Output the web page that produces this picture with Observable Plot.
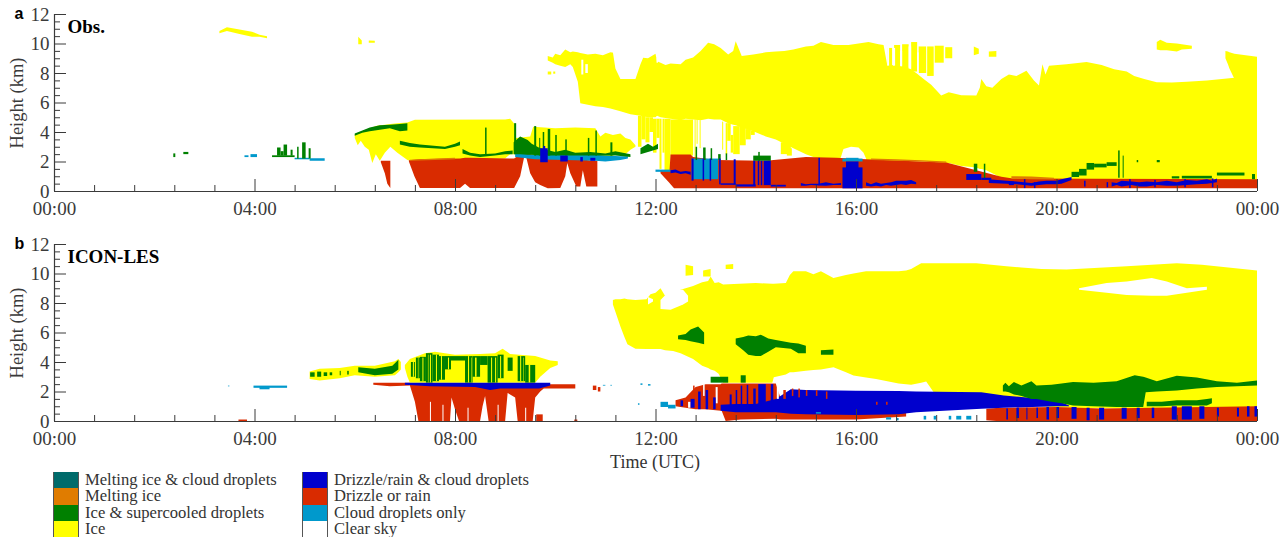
<!DOCTYPE html>
<html><head><meta charset="utf-8">
<script src="https://cdn.jsdelivr.net/npm/d3@7"></script>
<script src="https://cdn.jsdelivr.net/npm/@observablehq/plot@0.6"></script>
<style>
html,body{margin:0;padding:0;background:#fff;overflow:hidden}
#wrap{position:relative;width:1287px;height:537px;font-family:"Liberation Serif",serif;color:#333}
#wrap svg{position:absolute;left:0;background:none}
.lg{position:absolute;font-size:16.6px;line-height:16px;white-space:nowrap}
.sw{position:absolute;width:26px;height:16.5px;box-sizing:border-box;border-left:1px solid #555;border-right:1px solid #555}
</style></head><body><div id="wrap"></div>
<script>
// ---- classes ----
const classNames=["Melting ice & cloud droplets","Melting ice","Ice & supercooled droplets","Ice","Drizzle/rain & cloud droplets","Drizzle or rain","Cloud droplets only","Clear sky"];
const classColors=["#006b6b","#e07c00","#008000","#ffff00","#0000cd","#d92b00","#0099cc","#ffffff"];
const [TEAL,ORANGE,GREEN,YELLOW,BLUE,RED,CYAN,WHITE]=classColors;
const majorHours=[0,4,8,12,16,20,24];
const minorHours=[0.8,1.6,2.4,3.2,4.8,5.6,6.4,7.2,8.8,9.6,10.4,11.2,12.8,13.6,14.4,15.2,16.8,17.6,18.4,19.2,20.8,21.6,22.4,23.2];
const majorKm=[0,2,4,6,8,10,12];
const minorKm=[0.5,1,1.5,2.5,3,3.5,4.5,5,5.5,6.5,7,7.5,8.5,9,9.5,10.5,11,11.5];

// ---- panel a: Obs. rows [hour, low km, high km] ----
const obsIceMain=[[9.85,8.85,9.15],[9.95,8.7,9.05],[10,8.6,9.3],[10.1,8.5,9.2],[10.2,8.4,9.6],[10.3,8.6,9.4],[10.35,8.4,9.45],[10.45,7.4,9.4],[10.5,5.95,9.35],[10.65,5.85,9.25],[10.8,5.75,9.3],[10.95,5.7,9.2],[11.1,5.6,9.4],[11.3,5.4,9.3],[11.5,5.2,9.3],[11.7,5.1,9.05],[11.85,5,9],[12,5,9.3],[12.03,5.1,8.8],[12.1,5,8.7],[12.2,4.95,8.55],[12.3,4.9,8.65],[12.5,4.8,8.6],[12.6,4.9,8.9],[12.75,4.85,9.05],[12.9,4.8,9.5],[13.05,4.9,10.05],[13.17,4.85,9.95],[13.3,4.85,9.7],[13.45,4.6,9.25],[13.55,4.5,9.5],[13.6,4.45,10.15],[13.72,4.3,9.15],[13.95,4.05,9.25],[14.2,3.7,9.4],[14.4,3.5,9.45],[14.57,3.2,9.5],[14.75,2.9,9.6],[15,2.5,9.8],[15.15,2.3,9.85],[15.3,2.1,10.1],[15.55,2.1,9.9],[15.85,2.1,9.9],[16.05,2.1,10],[16.25,2.1,10.1],[16.45,2,9.95],[16.55,2,9.9],[16.62,2,8.6],[16.8,2,8.5],[17.03,2,8.4],[17.2,2,8],[17.35,2,7.6],[17.5,2,7.2],[17.7,1.9,6.47],[17.85,1.9,6.7],[18.1,1.7,6.5],[18.4,1.6,6.47],[18.47,1.5,7],[18.5,1.5,7.6],[18.6,1.4,7.1],[18.72,1.2,7],[18.9,0.9,7.6],[19.05,0.8,7.9],[19.2,0.75,7.8],[19.4,0.7,8.15],[19.55,0.7,7.5],[19.65,0.7,7.15],[19.72,0.7,8.6],[19.78,0.7,7.9],[19.85,0.7,8.5],[20.2,0.7,8.6],[20.6,0.7,8.75],[20.9,0.7,8.55],[21.15,0.7,8.25],[21.4,0.7,8.1],[21.55,0.7,7.8],[21.75,0.7,7.6],[22,0.7,7.37],[22.3,0.7,7.35],[22.6,0.7,7.4],[23,0.7,7.5],[23.5,0.7,7.66],[24,0.7,7.8]];
const obsIceCorner=[[23.37,9,9.5],[23.42,8.6,9.45],[23.45,8.3,9.4],[23.55,7.6,9.3],[24,7,9.1]];
const obsIceStreakTop=[[18.35,9.2,9.8],[18.45,9.3,9.65]];
const obsIceStreakB=[[18.65,9.1,9.45],[18.8,9.1,9.5]];
const obsIceBlobs=[[22,9.6,10.1],[22.07,9.55,10.25],[22.2,9.55,10.05],[22.4,9.45,10],[22.5,9.6,9.95],[22.7,9.65,9.85]];
const obsIceHigh=[[3.3,10.7,10.85],[3.45,10.85,11.1],[3.7,10.65,10.95],[3.95,10.45,10.8],[4.1,10.45,10.6],[4.25,10.35,10.5]];
const obsIceSmall=[[6.07,9.95,10.45],[6.14,9.95,10.2]];
const obsIceSmall2=[[6.28,10.05,10.2],[6.4,10.05,10.18]];
const obsIceLow=[[6,3.6,3.85],[6.06,3.1,3.9],[6.12,3.4,3.95],[6.2,3,4.1],[6.28,2.8,4.2],[6.35,1.9,4.3],[6.42,2.5,4.4],[6.5,2.05,4.45],[6.6,2.6,4.5],[6.71,3,4.55],[6.85,2.6,4.6],[7.05,2.1,4.65],[7.2,2,4.83],[9,2.2,4.85],[9.1,2.5,4.9],[9.2,2.5,4.5],[9.22,2.5,3.6],[9.5,2.5,3.7],[9.56,2.4,4.35],[10,2.3,4.25],[10.4,2.2,4.3],[10.8,2.1,4.25],[10.9,2.1,3.7],[11,2.2,3.95],[11.15,2.4,3.8],[11.3,2.6,3.9],[11.4,2.5,3.6],[11.5,2.8,3.5],[11.6,3,3.1]];
const obsIceStripes=[[11.65,11.72,3,5.1],[11.72,11.8,3.5,5.1],[11.8,11.88,3.3,5],[11.88,11.95,4,5],[11.95,12.02,2.6,4.9],[12.02,12.08,3.6,4.9],[12.08,12.12,1.5,4.9],[12.14,12.18,2.6,4.9],[12.18,12.3,1.4,4.9],[12.3,12.75,2.4,4.85],[12.78,12.8,2.2,4.85],[12.82,12.84,3.2,4.85],[12.88,12.9,2.9,4.8],[13.33,13.35,2.8,4.7],[13.4,13.43,2.5,4.6],[13.43,13.5,3.4,4.6],[13.5,13.55,2.6,3.8],[13.55,13.68,2.5,4.4],[13.68,13.8,3.1,4.4],[13.8,13.9,3.5,4.2],[13.9,13.98,3.8,4.1],[14.5,14.7,2.5,3.3],[14.62,14.72,2.4,2.9]];
const obsWhite=[[15.68,2.1,2.1],[15.75,2.1,2.85],[15.9,2.1,3],[16.05,2.1,2.95],[16.15,2.1,2.6],[16.2,2.1,2.2]];
const obsWhiteNotch=[[11.15,9.4,9.6],[11.2,8.3,9.6],[11.3,7.6,9.6],[11.6,7.6,9.6],[11.7,8.6,9.6],[11.75,9,9.6]];
const obsWhiteStripes=[[16.62,16.66,8.5,9.9],[16.74,16.78,8.5,9.7],[16.88,16.92,8.5,9.5],[17.05,17.1,8.3,9.8],[17.22,17.25,8,9.4],[12.02,12.05,8.7,9],[10.52,10.56,7.9,8.9],[10.6,10.65,8,8.6]];
const obsIceTopStreaks=[[16.62,16.72,8.4,9.7],[16.76,16.88,8.4,9.9],[16.92,17.05,8.3,9.95],[17.1,17.22,8.1,10.1],[17.25,17.4,8,9.8],[17.42,17.55,7.8,9.8],[17.57,17.75,8.7,9.85],[17.78,17.92,9,9.75],[9.85,9.92,7.9,8.1],[9.96,10,7.95,8.1]];
const obsRainA=[[6.52,1.95,2.05],[6.6,1.2,2.05],[6.65,0.5,2.05],[6.71,0.2,2.05]];
const obsRainB=[[7.08,2,2.09],[7.19,1,2.12],[7.3,0.2,2.15],[8.1,0.2,2.2],[8.2,0.5,2.25],[8.3,0.2,2.25],[9.18,0.2,2.2],[9.3,1,2.5],[9.38,2.3,2.6],[9.42,2.3,2.6],[9.5,1.2,2.5],[9.6,0.6,2.4],[9.7,0.4,2.4],[9.85,0.18,2.35],[10.1,0.2,2.3],[10.2,1,2.3],[10.24,1.9,2.3],[10.3,1.2,2.2],[10.42,0.3,2.15],[10.5,0.3,2.1],[10.55,1.4,2.1],[10.62,0.3,2.1],[10.8,0.3,2.05],[10.84,0.3,2.05]];
const obsRainC=[[12.1,1.2,1.35],[12.28,0.55,1.4],[12.3,0.45,2.47],[12.37,0.18,2.47],[12.7,0.18,2.47],[12.75,0.18,2.3],[13.2,0.18,2.1],[14.2,0.18,2.05],[15,0.18,2.3],[15.6,0.18,2.25],[16.3,0.18,2.13],[17.8,0.18,1.93],[18.9,0.18,0.97],[19.13,0.18,0.85],[24,0.18,0.8]];
const obsMelt=[[16.3,2.1,2.2],[16.8,2.05,2.15],[17.3,2,2.08],[17.8,1.9,2]];
const obsMelt2=[[19.1,0.83,1],[19.5,0.8,0.98],[19.95,0.78,0.9]];
const obsMeltLeft=[[7.1,2.05,2.12],[7.6,2.1,2.2],[8,2.15,2.25]];
const obsGreenBand1=[[6,3.75,3.9],[6.15,3.95,4.1],[6.3,4.05,4.3],[6.5,4.15,4.45],[6.7,4.25,4.5],[6.9,4.05,4.55],[7.05,4.1,4.6]];
const obsGreenBand2=[[6.9,3.15,3.4],[7.1,3,3.25],[7.3,2.95,3.15],[7.8,2.85,3],[8,3,3.2],[8.1,3.1,3.35]];
const obsGreenBand3=[[8.15,2.55,2.85],[8.3,2.4,2.6],[8.5,2.3,2.5],[8.8,2.4,2.55],[9,2.5,2.7],[9.15,2.5,2.75]];
const obsGreenBlock=[[9.17,2.5,3.3],[9.3,2.5,3.7],[9.45,2.45,3.45],[9.53,2.45,3.2],[9.7,2.4,2.9],[10,2.4,2.65],[10.2,2.4,2.8],[10.4,2.4,2.6],[10.7,2.4,2.65],[11,2.4,2.55],[11.2,2.4,2.7],[11.5,2.3,2.5]];
const obsGreenRight=[[11.7,2.5,2.9],[11.85,2.65,3.2],[11.95,2.75,3],[12.05,2.85,3.2]];
const obsGreenStripes=[[2.38,2.42,2.3,2.55],[2.58,2.68,2.5,2.65],[4.35,4.8,2.3,2.42],[4.45,4.52,2.4,2.95],[4.52,4.58,2.4,2.7],[4.58,4.65,2.4,3.15],[4.72,4.76,2.4,2.8],[4.85,4.88,2.2,3],[4.95,5.02,2.2,3.3],[5.08,5.12,2.2,2.9],[8.6,8.63,2.4,4.3],[9.18,9.22,2.5,4.6],[9.58,9.62,2.4,4.4],[9.68,9.7,2.4,3.6],[9.75,9.78,2.4,4],[9.85,9.9,2.4,4.2],[10,10.03,2.4,3.8],[10.2,10.23,2.4,3.5],[10.65,10.68,2.4,3.6],[10.8,10.83,2.4,4.1],[11.1,11.14,2.4,3.3],[12.8,12.83,2.1,3],[12.95,13,2.1,2.95],[13.1,13.13,2.1,2.9],[13.25,13.3,2.1,2.5],[13.4,13.43,2.1,2.55],[13.95,14.3,2.05,2.4],[14.05,14.08,2.05,2.65],[18.35,18.42,1.3,1.85],[18.55,18.58,0.8,1.85],[20.3,20.45,0.95,1.3],[20.45,20.6,1.05,1.5],[20.6,20.75,1.45,1.9],[20.75,21,1.6,1.85],[21,21.2,1.7,1.95],[21.23,21.26,0.9,2.75],[21.32,21.34,0.9,2.4],[21.6,21.63,1.95,2.1],[22,22.06,1.95,2.1],[22.3,22.45,0.85,1],[22.5,23.1,0.85,1.03],[23.2,23.75,1.05,1.25],[23.9,23.96,0.8,1.15]];
const obsCyanBand=[[9.2,2.3,2.55],[9.6,2.15,2.45],[10.2,2.1,2.45],[10.8,2.05,2.45],[11,2,2.4],[11.3,2.1,2.35],[11.45,2.2,2.35]];
const obsCyanStripes=[[3.8,3.88,2.3,2.42],[3.92,4.05,2.3,2.5],[4.8,5.1,2.15,2.25],[5.1,5.4,2.05,2.22],[12,12.3,1.3,1.45],[12.72,13.25,0.8,2.2],[15.73,16.13,2,2.2],[15.8,16.05,2.1,2.25]];
const obsBlueStripes=[[9.7,9.85,1.95,2.9],[9.76,9.8,2.5,3.05],[10.1,10.25,2,2.4],[10.5,10.55,2,2.3],[10.7,10.8,2.05,2.25],[12.72,12.76,0.7,2.2],[12.94,12.97,0.7,2.2],[13.08,13.11,0.7,2.2],[13.27,13.3,0.45,2.2],[13.56,13.6,0.45,2.15],[13.3,13.6,0.42,0.52],[13.6,14,0.3,0.45],[13.95,13.99,0.4,2.05],[14.04,14.07,0.4,2.05],[14.1,14.13,0.4,2.05],[14.16,14.3,0.4,2.05],[14.3,14.6,0.3,0.42],[15.73,16.13,0.18,1.6],[15.8,16.05,0.5,2],[18.2,18.5,0.75,1.15],[18.5,18.7,0.75,0.9],[19.05,19.15,0.4,0.65],[15.25,15.28,0.4,2.25],[19.35,19.38,0.2,0.8],[19.55,19.58,0.2,0.6],[20.55,20.58,0.3,0.7],[21,21.03,0.25,0.6],[21.45,21.48,0.2,0.8],[21.95,21.98,0.25,0.75],[22.55,22.58,0.25,0.8],[23.1,23.13,0.25,0.85]];
const obsBlueLine=[[12.3,1.2,1.4],[12.4,1.25,1.45],[12.5,1.15,1.3],[12.6,1.2,1.35],[12.7,1.1,1.3]];
const obsBlueLine1=[[14.9,0.35,0.55],[15,0.35,0.45],[15.1,0.4,0.5],[15.25,0.38,0.5],[15.4,0.35,0.6],[15.55,0.4,0.5],[15.7,0.4,0.55]];
const obsBlueLine1b=[[16.2,0.35,0.6],[16.3,0.3,0.45],[16.4,0.35,0.6],[16.5,0.3,0.5],[16.6,0.4,0.55],[16.7,0.35,0.6],[16.8,0.4,0.7],[16.9,0.45,0.7],[17,0.4,0.7],[17.1,0.5,0.75],[17.2,0.45,0.6]];
const obsBlueLine2=[[18.65,0.55,0.8],[19,0.5,0.7],[19.2,0.45,0.65],[19.35,0.4,0.6],[19.5,0.35,0.55],[19.65,0.4,0.65],[19.8,0.45,0.7],[20,0.45,0.7],[20.1,0.5,0.8],[20.3,0.75,0.95]];
const obsBlueLine3=[[21.1,0.3,0.6],[21.2,0.4,0.55],[21.3,0.3,0.7],[21.5,0.4,0.65],[21.65,0.3,0.6],[21.8,0.3,0.65],[22,0.4,0.6],[22.2,0.35,0.7],[22.4,0.35,0.6],[22.6,0.4,0.75],[22.8,0.45,0.7],[23,0.5,0.8],[23.1,0.55,0.7],[23.2,0.6,0.85]];

// ---- panel b: ICON-LES ----
const lesIceMain=[[11.15,7.9,8.2],[11.2,7.4,8.25],[11.3,6.4,8.25],[11.38,5.7,8.3],[11.44,5.2,8.25],[11.6,4.9,8.2],[11.82,4.88,8.25],[11.9,4.88,8.6],[12,4.88,8.7],[12.1,4.88,9],[12.19,4.8,8.5],[12.35,4.75,8.7],[12.5,4.6,8.9],[12.75,4.2,9.15],[12.93,3.75,9.4],[13.05,3.6,9.5],[13.1,3.5,9.8],[13.18,3.4,9.35],[13.26,3.2,9.4],[13.35,2.6,9.25],[14,2.6,9.35],[14.33,2.6,9.3],[14.36,2.97,9.3],[14.6,3.15,9.35],[14.68,3.3,9.9],[14.75,3.3,10.15],[15,3.4,10.15],[15.15,3.45,9.95],[15.3,3.5,10.15],[15.55,3.64,9.7],[15.8,3.3,9.9],[15.95,3.08,10],[16.2,2.95,10.15],[16.4,2.85,10.15],[16.85,2.55,10.15],[17,2.5,10.2],[17.1,2.45,10.3],[17.3,2.6,10.7],[17.4,2.67,10.7],[17.55,1.95,10.7],[18.4,1.7,10.7],[19,1.5,10.5],[19.3,1.3,10.4],[19.7,1,10.3],[20.2,0.9,10.27],[21.4,0.85,10.5],[22.4,0.85,10.7],[22.9,0.85,10.6],[24,0.8,10.2]];
const lesIceBlobA=[[12.6,9.85,10.6],[12.75,9.9,10.5]];
const lesIceBlobB=[[12.95,9.8,10.2],[13.1,9.8,10.3]];
const lesIceBlobC=[[13.4,10.3,10.6],[13.55,10.3,10.65]];
const lesWhiteHoleA=[[12.1,7.6,8.2],[12.3,7.55,8.9],[12.55,7.9,8.9],[12.65,8.1,8.5]];
const lesWhiteHoleB=[[11.85,7.9,8.4],[11.95,8.1,8.25]];
const lesWhiteHoleC=[[20.45,8.9,9],[21,8.7,9.35],[21.4,8.55,9.45],[21.9,8.5,9.7],[22.2,8.5,9.45],[22.6,8.7,9],[23,8.9,9.1]];
const lesIceA=[[5.1,2.85,3.35],[5.3,2.75,3.55],[5.7,2.9,3.6],[6,3.1,3.75],[6.4,3,3.75],[6.8,3.1,4.05],[6.87,3.3,4.2],[6.92,3.5,4]];
const lesIceB=[[7,3.6,3.8],[7.05,3,4],[7.1,2.6,4.2],[7.4,2.6,4.6],[7.6,2.6,4.7],[8,2.6,4.5],[8.5,2.6,4.55],[8.8,2.6,4.6],[8.95,2.6,4.9],[9.1,2.6,4.55],[9.6,2.6,4.4],[9.7,3,4.3],[9.9,3.6,4.1],[10.05,3.8,4.05]];
const lesGreenA=[[6.07,3.3,3.65],[6.4,3.1,3.55],[6.75,3.2,3.75],[6.87,3.5,4.15]];
const lesGreenC=[[12.45,5.55,5.8],[12.6,5.5,5.9],[12.7,5.4,6.2],[12.85,5.3,6.4],[12.97,5.2,6]];
const lesGreenD=[[13.6,5.2,5.6],[13.75,4.8,5.7],[13.85,4.5,5.8],[14,4.4,5.75],[14.1,4.4,5.85],[14.25,4.7,5.6],[14.4,5,5.5],[14.7,4.9,5.3],[14.85,4.6,5.25],[15,4.6,5.1]];
const lesGreenE=[[15.3,4.5,4.8],[15.55,4.5,4.85]];
const lesGreenBig=[[18.93,2,2.4],[18.98,2,2.6],[19.05,1.95,2.35],[19.15,1.8,2.65],[19.3,1.7,2.4],[19.5,1.5,2.7],[19.6,1.5,2.4],[19.9,1.3,2.45],[20.1,1.2,2.55],[20.33,1.05,2.65],[20.74,1,2.6],[21.2,0.95,2.7],[21.56,0.95,3.1],[21.73,0.95,3],[21.78,1.95,2.95],[22,2,2.7],[22.4,2.07,3.07],[22.8,2.2,2.95],[23.2,2.3,2.7],[23.6,2.35,2.6],[24,2.4,2.75]];
const lesGreenLow=[[21.8,1,1.3],[22.1,1,1.3],[22.4,1.05,1.4],[22.8,1.05,1.4],[23,1.05,1.5],[23.1,1.2,1.55]];
const lesGreenStripes=[[5.11,5.2,3,3.3],[5.25,5.33,3,3.35],[5.38,5.45,3.05,3.3],[5.5,5.55,3.1,3.3],[5.7,5.72,3.1,3.4],[5.85,5.88,3.15,3.4],[7.12,7.2,3,4],[7.22,7.3,2.9,4.3],[7.3,7.42,2.7,4.35],[7.42,7.55,2.6,4.6],[7.55,7.68,2.7,4.5],[7.68,7.8,2.8,4.4],[7.8,7.92,3.5,4.4],[7.92,8.2,4.1,4.4],[8.2,8.35,2.6,4.4],[8.35,8.5,3,4.4],[8.5,8.65,3.8,4.4],[8.65,8.85,2.6,4.4],[8.85,8.97,2.9,4.5],[9.05,9.15,3.4,4.3],[9.25,9.4,2.7,4.4],[9.4,9.6,2.6,3.8],[13.1,13.45,2.6,3],[13.7,13.8,2.6,3.1]];
const lesYellowStreaks=[[7.16,7.18,3,4],[7.26,7.27,2.9,4.3],[7.35,7.37,2.7,4.3],[7.46,7.47,2.6,4.5],[7.5,7.52,2.6,4.5],[7.62,7.64,2.7,4.5],[7.72,7.74,2.8,4.4],[7.86,7.88,3.5,4.3],[8.26,8.28,2.6,4.4],[8.32,8.33,2.6,4.3],[8.4,8.43,3,4.3],[8.72,8.74,2.6,4.3],[8.8,8.82,2.6,4.3],[8.9,8.92,2.9,4.4],[9.3,9.32,2.7,4.4],[9.36,9.37,2.7,4.3],[9.47,9.5,2.6,3.8]];
const lesRainA=[[7.1,2.4,2.5],[7.2,1.3,2.55],[7.27,0,2.55],[7.9,0,2.5],[7.93,1.6,2.5],[8,0.8,2.5],[8.08,0,2.5],[8.5,0,2.5],[8.55,1,2.5],[8.6,1.7,2.5],[8.67,0,2.5],[9,0,2.5],[9.05,1.9,2.5],[9.2,1.6,2.5],[9.25,0,2.5],[9.55,0,2.5],[9.6,1.6,2.45],[9.7,2,2.4],[9.77,2.2,2.5],[10.4,2.2,2.5]];
const lesRainThin=[[6.37,2.45,2.6],[6.7,2.35,2.6],[7.1,2.4,2.6]];
const lesRainAfternoon=[[12.4,1,1.4],[12.6,0.9,1.6],[12.8,0.8,2.3],[13,0.8,2.5],[13.3,0.7,2.5],[13.32,0.7,2.55],[13.4,0,2.55],[13.7,0.1,2.55],[14.4,0.15,2.55],[14.5,0.1,1.5],[15,0.1,1.4],[16,0.1,0.8],[17,0.3,0.6]];
const lesRainRight=[[18.6,0.05,0.83],[18.8,0,0.88],[19,0,0.9],[20,0,0.95],[20.9,0,0.85],[24,0,1]];
const lesRainStripes=[[3.68,3.85,0,0.1],[10.38,10.44,0,0.1],[9.62,9.75,0,0.45],[10.75,10.82,2.1,2.4],[10.85,10.9,2,2.3],[12.75,12.78,1.2,2.4],[14.55,14.6,1.5,2.1],[14.72,14.75,1.7,2.2],[14.85,14.88,1.6,2.2],[15,15.03,1.7,2.1],[15.2,15.23,1.7,2.1],[15.4,15.43,1.5,2],[16.4,16.43,1.1,1.3],[16.6,16.63,1.1,1.3]];
const lesWhiteStripes=[[7.5,7.52,0,1.3],[7.75,7.77,0,1.1],[8.25,8.27,0,0.9],[8.85,8.87,0,1.1],[9.4,9.42,0,0.9],[12.95,12.98,1.7,2.5],[13.2,13.24,1.2,2.3],[12.65,12.7,0.9,1.3],[14.42,14.46,1.5,2.5]];
const lesBlueA=[[7,2.45,2.6],[7.5,2.35,2.6],[8.4,2.3,2.6],[8.7,2.1,2.6],[8.9,2.2,2.6],[9.68,2.2,2.6],[9.9,2.4,2.6]];
const lesBlueB=[[13.3,0.7,1.1],[13.6,0.6,1.15],[14,0.6,1.15],[14.4,0.6,1.5],[14.7,0.5,2.15],[15,0.45,2.1],[16,0.4,2.05],[16.85,0.45,2.03],[17.2,0.6,2],[18.5,0.83,1.95],[18.95,0.9,1.73],[20,1,1.4],[20.25,1,1.05]];
const lesBlueStripes=[[12.5,12.55,1,1.4],[12.7,12.78,0.9,1.5],[12.85,12.9,0.8,2],[13,13.05,0.8,2.1],[13.15,13.2,0.8,1.6],[13.48,13.52,1,1.8],[13.6,13.63,1,2.1],[13.7,13.73,1,2.4],[13.82,13.85,1,2.45],[13.95,14,1,2.2],[14.05,14.2,1.1,2.5],[14.3,14.35,1.2,2.5],[19,19.03,0.1,0.85],[19.2,19.25,0.2,0.9],[19.4,19.42,0.1,0.9],[19.6,19.63,0.2,0.9],[19.8,19.85,0.1,0.95],[20,20.05,0.2,0.95],[20.3,20.4,0.15,0.95],[20.6,20.66,0.05,0.9],[20.85,20.95,0.1,0.9],[21.3,21.4,0.15,0.9],[21.6,21.66,0.2,0.9],[21.9,21.95,0.2,0.9],[22.3,22.4,0.1,1],[22.5,22.7,0.1,1],[22.85,22.95,0.15,1],[23.2,23.24,0.3,0.9],[23.6,23.64,0.3,0.9],[23.8,23.85,0.3,1],[23.95,24,0.3,1]];
const lesCyanStripes=[[3.98,4.65,2.25,2.4],[4.1,4.3,2.15,2.3],[3.47,3.5,2.35,2.4],[10.95,11,2.4,2.45],[11.1,11.13,2.4,2.45],[11.7,11.74,2.45,2.55],[11.85,11.9,2.4,2.5],[11.65,11.68,1.1,1.2],[12.1,12.25,0.95,1.3],[12.25,12.4,0.85,1.1],[17.35,17.4,0.1,0.35],[17.55,17.6,0.1,0.35],[17.85,17.9,0.1,0.35],[18,18.1,0.1,0.35],[18.2,18.3,0.1,0.35],[15.2,15.3,0.5,0.6],[16.8,16.85,0.05,0.2],[16.6,16.7,0.1,0.25]];

// ---- marks ----
const band=(rows,fill)=>Plot.areaY(rows,{x:d=>d[0],y1:d=>d[1],y2:d=>d[2],fill});
const stripes=(rows,fill)=>Plot.rect(rows,{x1:d=>d[0],x2:d=>d[1],y1:d=>d[2],y2:d=>d[3],fill,inset:0});
const tf=h=>String(h%24).padStart(2,"0")+":00";
const INK="#3a3a3a";
function panel(letter,title,top,marks){
  const svg=Plot.plot({
    width:1287,height:225,marginTop:14,marginBottom:34,marginLeft:54,marginRight:30,
    style:{fontFamily:"'Liberation Serif',serif",fontSize:"19px",color:INK,background:"none"},
    x:{domain:[0,24],axis:null},y:{domain:[0,12],axis:null},
    marks:[
      ...marks,
      Plot.axisX({ticks:minorHours,tickSize:-6,fill:"none",stroke:INK,label:null,anchor:"bottom"}),
      Plot.axisX({ticks:majorHours,tickSize:-12,fill:"none",stroke:INK,label:null,anchor:"bottom"}),
      Plot.axisX({ticks:majorHours,tickSize:0,tickPadding:10,tickFormat:tf,fill:INK,label:null,anchor:"bottom"}),
      Plot.axisY({ticks:minorKm,tickSize:-6,fill:"none",stroke:INK,label:null,anchor:"left"}),
      Plot.axisY({ticks:majorKm,tickSize:-12,fill:"none",stroke:INK,label:null,anchor:"left"}),
      Plot.axisY({ticks:majorKm,tickSize:0,tickPadding:5,tickFormat:d=>d,fill:INK,label:null,anchor:"left"}),
      Plot.ruleY([0],{stroke:INK,strokeWidth:1.2}),
      Plot.ruleX([0],{stroke:INK,strokeWidth:1.2}),
      Plot.text(["Height (km)"],{frameAnchor:"left",textAnchor:"middle",rotate:-90,dx:-37,fontSize:18.5,fill:INK}),
      Plot.text([title],{frameAnchor:"top-left",dx:13,dy:5,textAnchor:"start",fontWeight:"bold",fontSize:19,fill:"#000"}),
      Plot.text([letter],{frameAnchor:"top-left",dx:-40,dy:-7,textAnchor:"start",fontWeight:"bold",fontSize:16,fontFamily:"'Liberation Sans',sans-serif",fill:"#000"})
    ]
  });
  svg.style.top=top+"px";
  document.getElementById("wrap").appendChild(svg);
}
panel("a","Obs.",0,[
  band(obsIceMain,YELLOW),band(obsIceCorner,YELLOW),band(obsIceStreakTop,YELLOW),band(obsIceStreakB,YELLOW),band(obsIceBlobs,YELLOW),band(obsIceHigh,YELLOW),band(obsIceSmall,YELLOW),band(obsIceSmall2,YELLOW),
  stripes(obsIceTopStreaks,YELLOW),band(obsIceLow,YELLOW),stripes(obsIceStripes,YELLOW),
  band(obsWhite,WHITE),band(obsWhiteNotch,WHITE),stripes(obsWhiteStripes,WHITE),
  band(obsRainA,RED),band(obsRainB,RED),band(obsRainC,RED),
  band(obsMelt,ORANGE),band(obsMelt2,ORANGE),band(obsMeltLeft,ORANGE),
  band(obsCyanBand,CYAN),stripes(obsCyanStripes,CYAN),
  band(obsGreenBand1,GREEN),band(obsGreenBand2,GREEN),band(obsGreenBand3,GREEN),band(obsGreenBlock,GREEN),band(obsGreenRight,GREEN),stripes(obsGreenStripes,GREEN),
  stripes(obsBlueStripes,BLUE),band(obsBlueLine,BLUE),band(obsBlueLine1,BLUE),band(obsBlueLine1b,BLUE),band(obsBlueLine2,BLUE),band(obsBlueLine3,BLUE)
]);
panel("b","ICON-LES",230,[
  band(lesIceMain,YELLOW),band(lesIceBlobA,YELLOW),band(lesIceBlobB,YELLOW),band(lesIceBlobC,YELLOW),band(lesIceA,YELLOW),band(lesIceB,YELLOW),
  band(lesWhiteHoleA,WHITE),band(lesWhiteHoleB,WHITE),band(lesWhiteHoleC,WHITE),
  band(lesGreenA,GREEN),band(lesGreenC,GREEN),band(lesGreenD,GREEN),band(lesGreenE,GREEN),stripes(lesGreenStripes,GREEN),stripes(lesYellowStreaks,YELLOW),
  band(lesRainA,RED),band(lesRainThin,RED),band(lesRainAfternoon,RED),band(lesRainRight,RED),
  band(lesBlueA,BLUE),band(lesBlueB,BLUE),
  stripes(lesRainStripes,RED),stripes(lesWhiteStripes,WHITE),stripes(lesBlueStripes,BLUE),stripes(lesCyanStripes,CYAN),
  band(lesGreenBig,GREEN),band(lesGreenLow,GREEN)
]);
// ---- legend and shared x label ----
const wrap=document.getElementById("wrap");
const add=(cls,css,txt)=>{const e=document.createElement("div");e.className=cls;e.style.cssText=css;if(txt)e.textContent=txt;wrap.appendChild(e);};
add("lg","left:655px;top:452px;transform:translateX(-50%);font-size:18px;line-height:20px;","Time (UTC)");
classNames.forEach((n,i)=>{
  const col=i<4?0:1,row=i%4;
  const sx=col?302:53,tx=col?334:85,ty=472+row*16.4;
  add("sw",`left:${sx}px;top:${ty}px;background:${classColors[i]}`);
  add("lg",`left:${tx}px;top:${ty}px;`,n);
});
</script></body></html>
